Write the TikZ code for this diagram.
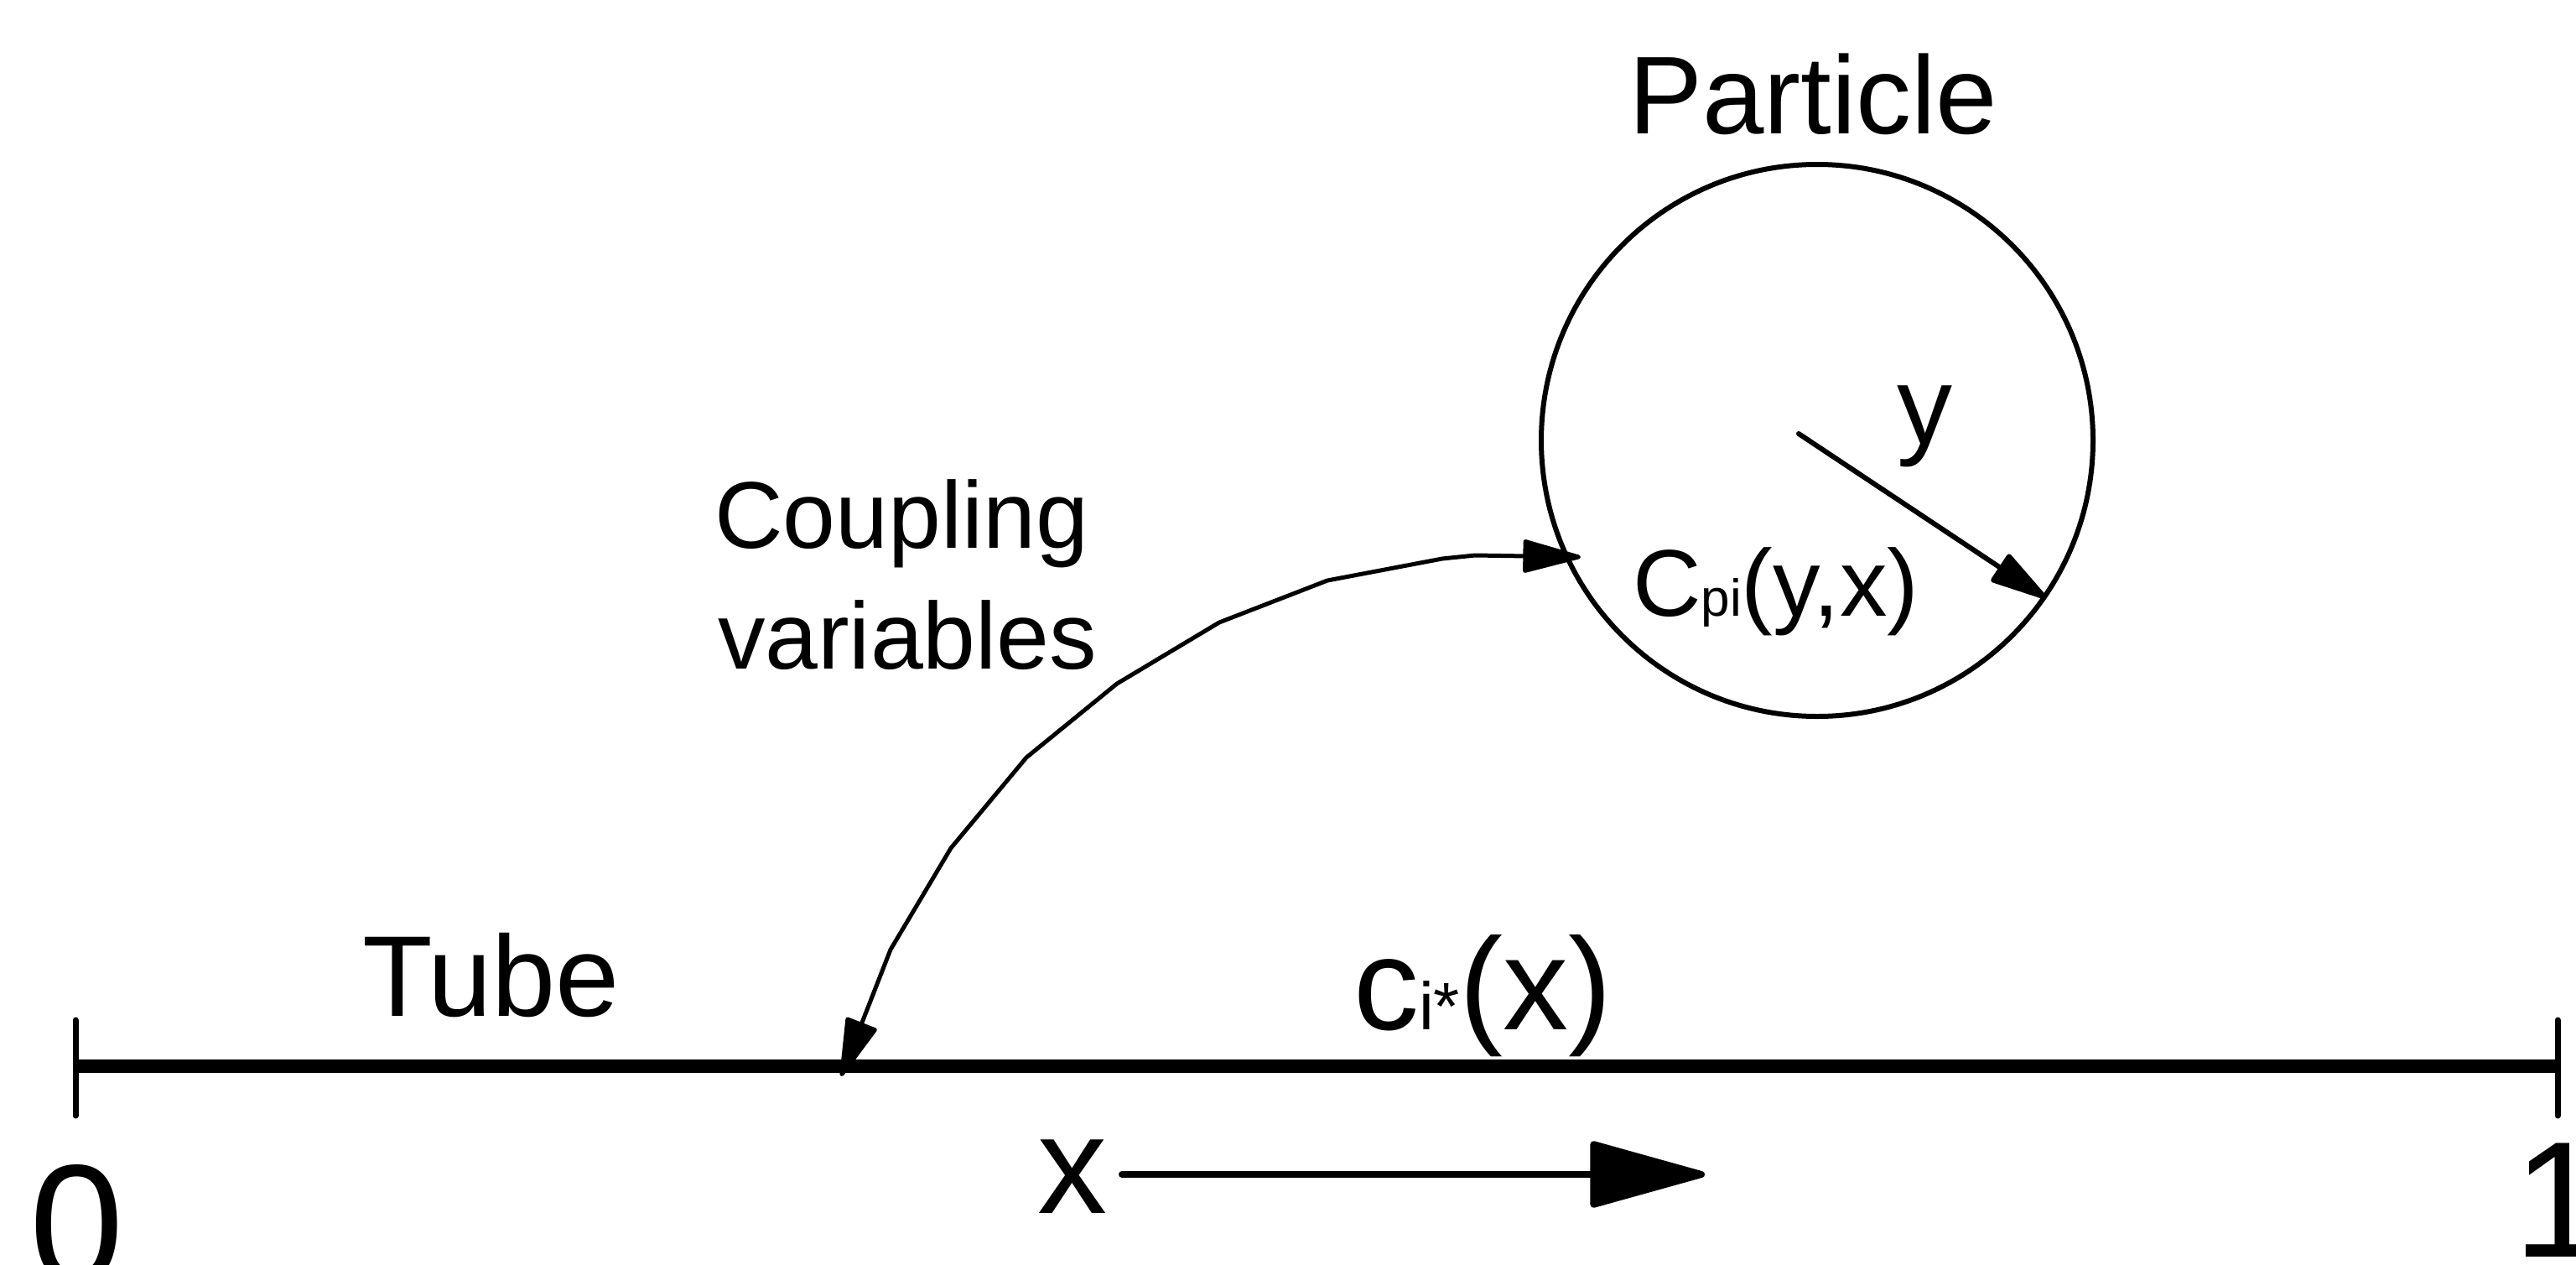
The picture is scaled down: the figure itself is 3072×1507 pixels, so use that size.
\documentclass[tikz,border=0pt]{standalone}
\usepackage{fontspec}
\setmainfont{Liberation Sans}
\usetikzlibrary{arrows.meta}
\newcommand\fsz[1]{\fontsize{#1pt}{#1pt}\selectfont}
\begin{document}
\begin{tikzpicture}[x=1pt,y=-1pt,
  lbl/.style={inner sep=0pt, outer sep=0pt, anchor=base west},
  thinline/.style={line width=6pt, line cap=round, line join=round},
  curveline/.style={line width=5pt, line cap=round, line join=round},
  smalltip/.tip={Triangle[length=76pt,width=40pt,round]},
  bigtip/.tip={Triangle[length=148pt,width=80pt,round]}]
\useasboundingbox (0,0) rectangle (3072,1507);
\clip (0,0) rectangle (3072,1507);

% particle
\node[circle, draw, line width=6pt, minimum size=658pt, inner sep=0pt] (particle) at (2167,525) {};
\coordinate (rc) at (2145,517);
\coordinate (rp) at (2440,713);
\draw[thinline, -smalltip] (rc) -- (rp);

% tube
\coordinate (t0) at (90,1271);
\coordinate (t1) at (3050,1271);
\coordinate (t0u) at (90,1216);
\coordinate (t0d) at (90,1330);
\coordinate (t1u) at (3050,1216);
\coordinate (t1d) at (3050,1330);
\draw[line width=16pt] (t0) -- (t1);
\draw[line width=7pt, line cap=round] (t0u) -- (t0d);
\draw[line width=7pt, line cap=round] (t1u) -- (t1d);

% coupling curve
\coordinate (cvtop) at (1885,664);
\coordinate (cvbot) at (1003,1283);
\draw[curveline, smalltip-smalltip] (cvtop) -- (1759,662) -- (1720,666) -- (1583,692) -- (1454,742)
  -- (1332,815) -- (1224,903) -- (1134,1011) -- (1062,1132) -- (cvbot);

% x axis arrow
\coordinate (xa0) at (1338,1400);
\coordinate (xa1) at (2033,1400);
\draw[line width=8pt, line cap=round, -bigtip] (xa0) -- (xa1);

% labels
\node[lbl] (ptxt) at (1942,159) {\fsz{132}Particle};
\node[lbl] (ytxt) at (2262,529) {\fsz{132}y};
\node[lbl] (cpi) at (1947,734) {\fsz{113}C{\fsz{62}pi}(y,x)};
\node[lbl] (coup1) at (852,653) {\fsz{113}Coupling};
\node[lbl] (coup2) at (856,797) {\fsz{113}variables};
\node[lbl] (tube) at (432,1211) {\fsz{137}Tube};
\node[lbl] (ci) at (1614,1227) {\fsz{156}c{\fsz{80}i*}(x)};
\node[lbl] (xlab) at (1237,1446) {\fsz{166}x};
\node[lbl] (zero) at (35,1529) {\fsz{202}0};
\node[lbl] (one) at (2997,1498) {\fsz{197}1};
\end{tikzpicture}
\end{document}
